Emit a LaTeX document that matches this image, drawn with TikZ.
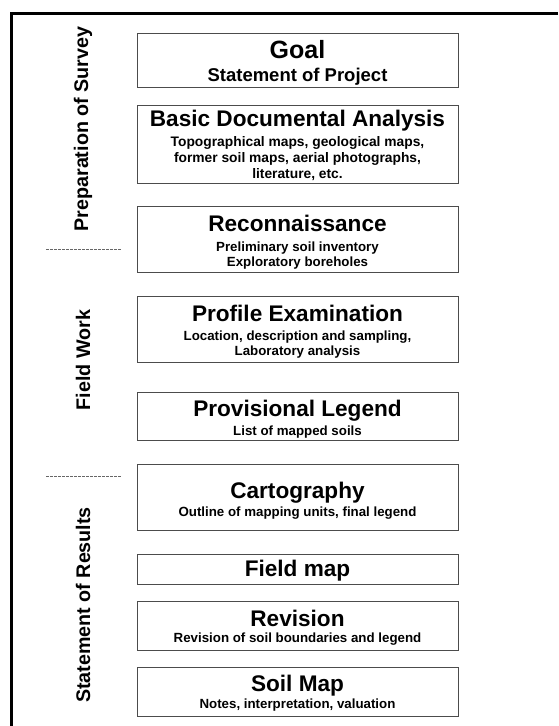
\documentclass[tikz,border=0pt]{standalone}
\usepackage{fontspec}
\setmainfont{Liberation Sans}
\begin{document}
\begin{tikzpicture}[x=1pt,y=-1pt,
  stagebox/.style={draw=black!70, line width=1pt, fill=white, rectangle, minimum width=321pt, inner sep=0pt},
  ttl/.style={anchor=base, inner sep=0pt, font=\bfseries\fontsize{22.6}{27}\selectfont},
  sub/.style={anchor=base, inner sep=0pt, align=center, font=\bfseries\fontsize{13.3}{15.5}\selectfont},
  side/.style={rotate=90, inner sep=0pt, font=\bfseries\fontsize{19.7}{23}\selectfont},
  sep/.style={draw=black!60, line width=0.6pt, dash pattern=on 2.5pt off 1.5pt},
  frame/.style={draw=black, line width=2.5pt}]
\useasboundingbox (0,0) rectangle (558,726);
% frame
\coordinate (ftl) at (11.3,13.5);
\coordinate (ftr) at (558,13.5);
\coordinate (fbl) at (11.3,726);
\draw[frame] (ftr) -- (ftl) -- (fbl);
% boxes
\node[stagebox, minimum height=54.3pt] (goal) at (297.5,60.15) {};
\node[stagebox, minimum height=78pt] (basic) at (297.5,144) {};
\node[stagebox, minimum height=65.6pt] (recon) at (297.5,239.5) {};
\node[stagebox, minimum height=65.6pt] (profile) at (297.5,329.5) {};
\node[stagebox, minimum height=48pt] (prov) at (297.5,416.3) {};
\node[stagebox, minimum height=66pt] (carto) at (297.5,497.3) {};
\node[stagebox, minimum height=30pt] (fieldmap) at (297.5,569.3) {};
\node[stagebox, minimum height=49pt] (revision) at (297.5,625.5) {};
\node[stagebox, minimum height=49pt] (soilmap) at (297.5,691.5) {};
% texts
\node[ttl, font=\bfseries\fontsize{25}{29}\selectfont] (goalT) at (297.5,58.6) {Goal};
\node[sub, font=\bfseries\fontsize{18.5}{22}\selectfont] (goalS) at (297.5,81) {Statement of Project};
\node[ttl] (basicT) at (297.5,126.7) {Basic Documental Analysis};
\node[sub, font=\bfseries\fontsize{13.8}{15.8}\selectfont] (basicS1) at (297.5,146.7) {Topographical maps, geological maps,};
\node[sub, font=\bfseries\fontsize{13.8}{15.8}\selectfont] (basicS2) at (297.5,162.5) {former soil maps, aerial photographs,};
\node[sub, font=\bfseries\fontsize{13.8}{15.8}\selectfont] (basicS3) at (297.5,178.3) {literature, etc.};
\node[ttl] (reconT) at (297.5,231.7) {Reconnaissance};
\node[sub] (reconS1) at (297.5,251.7) {Preliminary soil inventory};
\node[sub] (reconS2) at (297.5,266.5) {Exploratory boreholes};
\node[ttl] (profT) at (297.5,321.7) {Profile Examination};
\node[sub] (profS1) at (297.5,340.7) {Location, description and sampling,};
\node[sub] (profS2) at (297.5,355.3) {Laboratory analysis};
\node[ttl] (provT) at (297.5,416.7) {Provisional Legend};
\node[sub] (provS) at (297.5,435) {List of mapped soils};
\node[ttl] (cartoT) at (297.5,498.3) {Cartography};
\node[sub] (cartoS) at (297.5,516.7) {Outline of mapping units, final legend};
\node[ttl] (fieldT) at (297.5,576.7) {Field map};
\node[ttl] (revT) at (297.5,626) {Revision};
\node[sub] (revS) at (297.5,642.3) {Revision of soil boundaries and legend};
\node[ttl] (soilT) at (297.5,691.7) {Soil Map};
\node[sub] (soilS) at (297.5,708.3) {Notes, interpretation, valuation};
% side labels
\node[side] (prep) at (83,129) {Preparation of Survey};
\node[side] (field) at (83,360) {Field Work};
\node[side] (stat) at (83,605) {Statement of Results};
% separators
\coordinate (s1a) at (46,249);
\coordinate (s1b) at (121,249);
\coordinate (s2a) at (46,476.3);
\coordinate (s2b) at (121,476.3);
\draw[sep] (s1a) -- (s1b);
\draw[sep] (s2a) -- (s2b);
\end{tikzpicture}
\end{document}
